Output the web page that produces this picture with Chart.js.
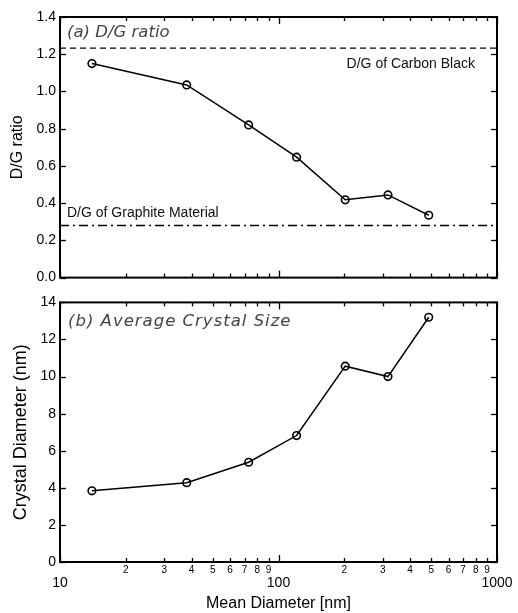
<!DOCTYPE html>
<html lang="en">
<head>
    <meta charset="UTF-8">
    <title>D/G ratio and crystal size</title>
    <style>
        body { margin: 0; background: #fff; }
        #wrap { position: relative; width: 518px; height: 613px; }
        canvas { position: absolute; left: 0; }
        #top { top: 0; }
        #bottom { top: 290px; }
    </style>
</head>
<body>
    <div id="wrap">
        <canvas id="top" width="518" height="290"></canvas>
        <canvas id="bottom" width="518" height="323"></canvas>
    </div>

    <script src="https://cdn.jsdelivr.net/npm/chart.js"></script>

    <script>
    // mean particle diameter [nm]
    const diameters = [14, 38, 73, 121, 202, 317, 487]
    // (a) D/G intensity ratio
    const dgRatio = [1.15, 1.035, 0.82, 0.647, 0.418, 0.444, 0.335]
    // (b) average crystal diameter [nm]
    const crystalSize = [3.84, 4.28, 5.38, 6.82, 10.56, 10.0, 13.2]
    // reference levels
    const carbonBlackDG = 1.233
    const graphiteDG = 0.28
    const xRange = [10, 1000]
    const xDecadeLabels = ['10', '100', '1000']

    const sans = "'Liberation Sans', Arial, sans-serif"
    const oblique = "'DejaVu Sans', Verdana, sans-serif"
    Chart.defaults.font.family = sans
    Chart.defaults.color = '#000'

    const isDecade = v => xDecadeLabels.includes(String(Math.round(v)))

    // every 1..9 multiple between 10 and 1000
    const xTickValues = []
    for (let d = 10; d < 1000; d *= 10) {
        for (let m = 1; m <= 9; m++) xTickValues.push(d * m)
    }
    xTickValues.push(1000)

    // box around the plot area with ticks pointing inwards
    const frameTicks = {
        id: 'frameTicks',
        afterDatasetsDraw(chart) {
            const {ctx, chartArea: a, scales: {x, y}} = chart
            const seg = (x1, y1, x2, y2) => {
                ctx.beginPath(); ctx.moveTo(x1, y1); ctx.lineTo(x2, y2); ctx.stroke()
            }
            ctx.save()
            ctx.strokeStyle = '#000'
            ctx.lineWidth = 1.3
            xTickValues.forEach(v => {
                const px = Math.round(x.getPixelForValue(v)) + 0.5
                const len = isDecade(v) ? 7 : 4
                seg(px, a.bottom, px, a.bottom - len)
                seg(px, a.top, px, a.top + len)
            })
            y.ticks.forEach(t => {
                const py = Math.round(y.getPixelForValue(t.value)) + 0.5
                seg(a.left, py, a.left + 6, py)
                seg(a.right, py, a.right - 6, py)
            })
            ctx.lineWidth = 2
            ctx.strokeRect(a.left, a.top, a.right - a.left, a.bottom - a.top)
            ctx.restore()
        }
    }

    const xScale = (showLabels) => ({
        type: 'logarithmic',
        min: xRange[0],
        max: xRange[1],
        display: showLabels,
        grid: {display: false, drawTicks: false},
        border: {display: false},
        afterBuildTicks: s => {
            s.ticks = xTickValues.map(v => ({value: v, major: isDecade(v)}))
        },
        ticks: {
            autoSkip: false,
            maxRotation: 0,
            padding: 2,
            callback: v => {
                if (isDecade(v)) return ['', String(Math.round(v))]
                const e = Math.floor(Math.log10(v) + 1e-9)
                return String(Math.round(v / Math.pow(10, e)))
            },
            font: c => isDecade(c.tick.value)
                ? {size: 14, lineHeight: 0.9, family: sans}
                : {size: 10, family: sans}
        },
        title: {display: showLabels, text: 'Mean Diameter [nm]', font: {size: 16}, padding: {top: 0, bottom: 0}},
        afterFit: s => { if (showLabels) s.height = 51 }
    })

    const yScale = (min, max, step, digits, label, titleSize, titlePad) => ({
        min: min,
        max: max,
        grid: {display: false, drawTicks: false},
        border: {display: false},
        ticks: {stepSize: step, padding: 4, font: {size: 14}, callback: v => Number(v).toFixed(digits)},
        title: {display: true, text: label, font: {size: titleSize}, padding: {top: titlePad, bottom: 0}},
        afterFit: s => { s.width = 60 }
    })

    const series = (values) => ({
        data: diameters.map((d, i) => ({x: d, y: values[i]})),
        borderColor: '#000',
        borderWidth: 1.5,
        backgroundColor: 'rgba(0,0,0,0)',
        pointRadius: 3.8,
        pointBorderWidth: 1.6,
        pointBackgroundColor: 'rgba(0,0,0,0)',
        pointBorderColor: '#000',
        tension: 0
    })

    const refLine = (level, dash) => ({
        data: xRange.map(x => ({x: x, y: level})),
        borderColor: '#000',
        borderWidth: 1.4,
        borderDash: dash,
        pointRadius: 0
    })

    const baseOptions = {
        responsive: false,
        animation: false,
        devicePixelRatio: 1,
        plugins: {legend: {display: false}, tooltip: {enabled: false}}
    }

    // (a) D/G ratio
    new Chart(document.getElementById('top'), {
        type: 'line',
        data: {
            datasets: [
                refLine(carbonBlackDG, [6, 4]),
                refLine(graphiteDG, [9, 4, 2, 4]),
                series(dgRatio)
            ]
        },
        options: {
            ...baseOptions,
            layout: {padding: {top: 17, right: 21, bottom: 11, left: 0}},
            scales: {
                x: xScale(false),
                y: yScale(0, 1.4, 0.2, 1, 'D/G ratio', 16, 8)
            }
        },
        plugins: [frameTicks, {
            id: 'notesA',
            afterDraw(chart) {
                const {ctx, chartArea: a, scales: {y}} = chart
                ctx.save()
                ctx.textBaseline = 'middle'
                ctx.fillStyle = '#444'
                ctx.font = 'oblique 16.5px ' + oblique
                ctx.fillText('(a) D/G ratio', a.left + 7, a.top + 16)
                ctx.fillStyle = '#111'
                ctx.font = '14px ' + sans
                ctx.textAlign = 'right'
                ctx.fillText('D/G of Carbon Black', a.right - 22, y.getPixelForValue(carbonBlackDG) + 16)
                ctx.textAlign = 'left'
                ctx.fillText('D/G of Graphite Material', a.left + 7, y.getPixelForValue(graphiteDG) - 12)
                ctx.restore()
            }
        }]
    })

    // (b) average crystal size
    new Chart(document.getElementById('bottom'), {
        type: 'line',
        data: {datasets: [series(crystalSize)]},
        options: {
            ...baseOptions,
            layout: {padding: {top: 12, right: 21, bottom: 0, left: 0}},
            scales: {
                x: xScale(true),
                y: yScale(0, 14, 2, 0, 'Crystal Diameter (nm)', 18, 10)
            }
        },
        plugins: [frameTicks, {
            id: 'notesB',
            afterDraw(chart) {
                const {ctx, chartArea: a} = chart
                ctx.save()
                ctx.textBaseline = 'middle'
                ctx.fillStyle = '#444'
                ctx.font = 'oblique 16.5px ' + oblique
                ctx.letterSpacing = '1px'
                ctx.fillText('(b) Average Crystal Size', a.left + 8, a.top + 19)
                ctx.restore()
            }
        }]
    })
    </script>
</body>
</html>
